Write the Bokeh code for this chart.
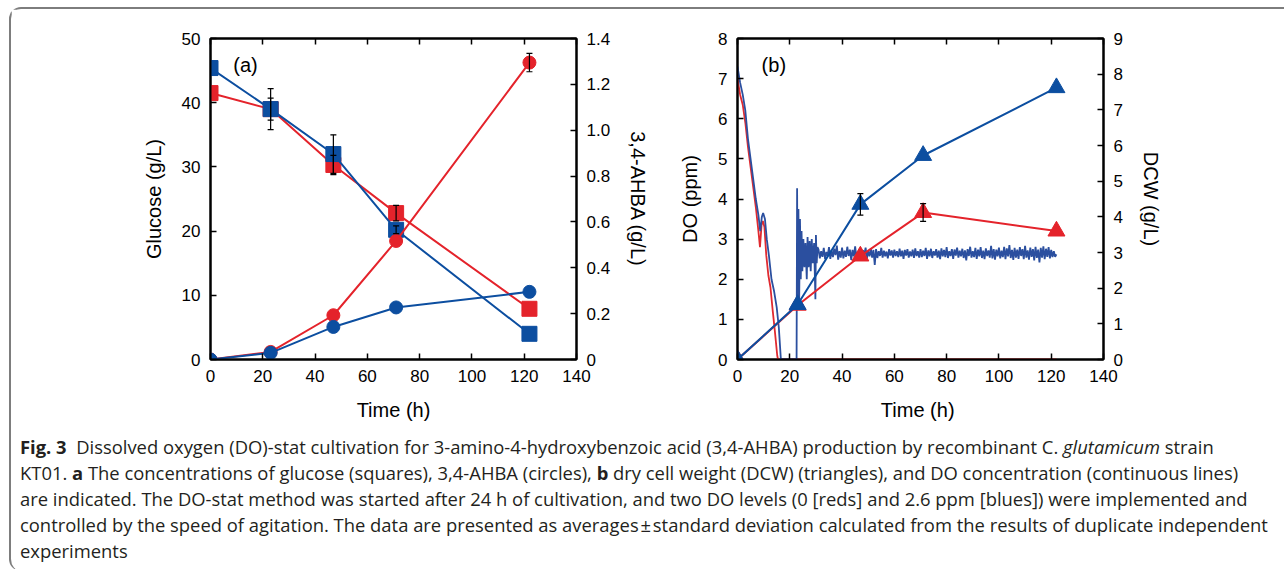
import numpy as np
from bokeh.plotting import figure
from bokeh.models import Range1d, LinearAxis, FixedTicker, Label, Div, CustomJSTickFormatter
from bokeh.layouts import row, column
from bokeh.embed import file_html
from bokeh.resources import INLINE

RED = "#e4232b"
BLUE = "#0c4ea0"
DO_BLUE = "#2b4f9f"
DO_RED = "#e02a30"
FONT = "Liberation Sans"

# ---------------- panel (a) data ----------------
time_a = [0, 23, 47, 71, 122]
glc_red = [41.5, 39.0, 30.3, 22.8, 7.9]
glc_blue = [45.4, 39.0, 32.0, 20.2, 4.0]
glc_red_sd = [0, 1.7, 1.5, 1.2, 0]
glc_blue_sd = [0, 3.2, 3.0, 0.6, 0]
ahba_red = [0, 0.033, 0.193, 0.517, 1.295]
ahba_blue = [0, 0.029, 0.142, 0.227, 0.295]
ahba_red_sd = [0, 0, 0, 0, 0.04]
ahba_blue_sd = [0, 0, 0, 0, 0]

time_ticks = [0, 20, 40, 60, 80, 100, 120, 140]
glc_ticks = [0, 10, 20, 30, 40, 50]
ahba_ticks = [0, 0.2, 0.4, 0.6, 0.8, 1.0, 1.2, 1.4]

# ---------------- panel (b) data ----------------
time_b = [0, 23, 47, 71, 122]
dcw_red = [0, 1.52, 2.9, 4.12, 3.6]
dcw_blue = [0, 1.54, 4.35, 5.72, 7.62]
dcw_red_sd = [0, 0, 0, 0.25, 0]
dcw_blue_sd = [0, 0, 0.3, 0, 0]

do_ticks = [0, 1, 2, 3, 4, 5, 6, 7, 8]
dcw_ticks = [0, 1, 2, 3, 4, 5, 6, 7, 8, 9]

do_red_t = [0, 1, 2, 3, 4, 5, 6, 7, 8, 8.6, 9.2, 9.7, 10.3, 11.0, 11.8, 12.6, 13.5, 14.3, 15.2, 15.5, 122]
do_red = [7.0, 6.6, 6.35, 5.9, 5.3, 4.8, 4.3, 3.8, 3.2, 2.8, 3.35, 3.45, 3.3, 2.6, 2.1, 1.8, 1.2, 0.7, 0.1, 0.0, 0.0]

do_blue_t = [0, 1, 2, 3, 4, 5, 6, 7, 8, 8.7, 9.3, 9.8, 10.5, 11.2, 12, 13, 14, 15, 15.8, 16.6, 22.6,
             22.8, 23.0, 23.3, 23.6, 23.9, 24.2, 24.5, 24.8, 25.2, 25.6, 26.0, 26.5, 26.8, 27.2,
             27.6, 28.0, 28.4, 28.8, 29.3, 29.8, 30.0, 30.3, 30.6]
do_blue = [7.3, 6.9, 6.6, 6.2, 5.5, 5.0, 4.5, 4.0, 3.6, 3.2, 3.55, 3.65, 3.5, 3.0, 2.6, 2.0, 1.7, 1.3, 0.8, 0.0, 0.0,
           4.27, 1.3, 3.75, 1.5, 3.5, 2.0, 3.2, 2.2, 3.0, 2.3, 2.9, 2.0, 3.05, 2.3,
           2.95, 2.2, 3.0, 2.4, 2.9, 1.5, 3.1, 2.4, 2.8]
# DO-stat phase (2.6 ppm set point), one reading every 0.5 h from 31 h to 122 h
do_blue_stat = [
    2.74, 2.52, 2.70, 2.56, 2.78, 2.50, 2.68, 2.58, 2.80, 2.51,
    2.72, 2.55, 2.76, 2.60, 2.84, 2.49, 2.70, 2.54, 2.79, 2.52,
    2.71, 2.56, 2.81, 2.58, 2.74, 2.48, 2.73, 2.57, 2.82, 2.53,
    2.69, 2.51, 2.77, 2.55, 2.72, 2.60, 2.79, 2.52, 2.70, 2.57,
    2.76, 2.54, 2.73, 2.36, 2.75, 2.53, 2.70, 2.58, 2.78, 2.54,
    2.71, 2.57, 2.69, 2.52, 2.75, 2.59, 2.72, 2.54, 2.74, 2.58,
    2.70, 2.55, 2.76, 2.57, 2.71, 2.51, 2.73, 2.59, 2.75, 2.54,
    2.69, 2.57, 2.74, 2.53, 2.77, 2.58, 2.70, 2.54, 2.75, 2.55,
    2.71, 2.58, 2.78, 2.51, 2.72, 2.57, 2.76, 2.53, 2.70, 2.59,
    2.75, 2.54, 2.71, 2.50, 2.77, 2.57, 2.73, 2.55, 2.80, 2.53,
    2.70, 2.58, 2.75, 2.51, 2.74, 2.59, 2.79, 2.54, 2.71, 2.57,
    2.76, 2.53, 2.72, 2.47, 2.75, 2.58, 2.81, 2.54, 2.70, 2.55,
    2.78, 2.51, 2.74, 2.57, 2.80, 2.53, 2.71, 2.50, 2.77, 2.58,
    2.72, 2.54, 2.83, 2.52, 2.75, 2.49, 2.74, 2.57, 2.79, 2.52,
    2.71, 2.55, 2.81, 2.50, 2.77, 2.57, 2.85, 2.53, 2.73, 2.48,
    2.78, 2.54, 2.74, 2.51, 2.80, 2.58, 2.75, 2.50, 2.83, 2.54,
    2.72, 2.49, 2.79, 2.56, 2.75, 2.47, 2.81, 2.53, 2.74, 2.42,
    2.78, 2.54, 2.82, 2.50, 2.76, 2.56, 2.80, 2.52, 2.73, 2.55,
    2.70, 2.56, 2.62,
]
do_blue_stat_t = list(31.0 + 0.5 * np.arange(len(do_blue_stat)))


def style_axis(ax, ticks, show_labels=True):
    ax.ticker = FixedTicker(ticks=ticks)
    ax.major_tick_in = 6
    ax.major_tick_out = 0
    ax.minor_tick_in = 0
    ax.minor_tick_out = 0
    ax.axis_line_width = 2
    ax.axis_line_color = "black"
    ax.major_tick_line_width = 1.5
    ax.major_tick_line_color = "black"
    ax.major_label_text_font = FONT
    ax.major_label_text_font_size = "17px"
    ax.major_label_text_color = "black"
    ax.axis_label_text_font = FONT
    ax.axis_label_text_font_size = "20px"
    ax.axis_label_text_font_style = "normal"
    ax.axis_label_text_color = "black"
    ax.major_label_standoff = 10
    ax.axis_label_standoff = 14
    if not show_labels:
        ax.major_label_text_font_size = "1px"
        ax.major_label_text_color = None
        ax.major_label_standoff = 0


def add_err(p, t, y, sd, range_name="default"):
    xs = [ti for ti, s in zip(t, sd) if s > 0]
    lo = [yi - s for yi, s in zip(y, sd) if s > 0]
    hi = [yi + s for yi, s in zip(y, sd) if s > 0]
    if not xs:
        return
    p.segment(xs, lo, xs, hi, line_color="black", line_width=1.2, y_range_name=range_name)
    p.scatter(xs + xs, lo + hi, marker="dash", size=6, line_color="black", line_width=1.2,
              y_range_name=range_name)


def make_fig(width, yr, bl, br, bt):
    p = figure(width=width, height=420, x_range=Range1d(0, 140), y_range=yr,
               output_backend="svg", toolbar_location=None,
               min_border_left=bl, min_border_right=br, min_border_top=bt, min_border_bottom=70)
    p.xgrid.grid_line_color = None
    p.ygrid.grid_line_color = None
    p.outline_line_color = "black"
    p.outline_line_width = 2
    p.background_fill_color = "white"
    p.border_fill_color = "white"
    return p


# ---------------- panel (a) ----------------
pa = make_fig(648, Range1d(0, 50), 199, 83, 28)
pa.extra_y_ranges = {"ahba": Range1d(0, 1.4)}
style_axis(pa.xaxis[0], time_ticks)
style_axis(pa.yaxis[0], glc_ticks)
pa.xaxis[0].axis_label = "Time (h)"
pa.yaxis[0].axis_label = "Glucose (g/L)"
ra = LinearAxis(y_range_name="ahba", axis_label="3,4-AHBA (g/L)")
style_axis(ra, ahba_ticks)
ra.formatter = CustomJSTickFormatter(code="return tick == 0 ? '0' : tick.toFixed(1);")
pa.add_layout(ra, "right")
ta = LinearAxis()
style_axis(ta, time_ticks, show_labels=False)
pa.add_layout(ta, "above")

pa.line(time_a, glc_red, line_color=RED, line_width=2)
pa.scatter(time_a, glc_red, marker="square", size=15, fill_color=RED, line_color=RED)
pa.line(time_a, glc_blue, line_color=BLUE, line_width=2)
pa.scatter(time_a, glc_blue, marker="square", size=15, fill_color=BLUE, line_color=BLUE)
pa.line(time_a, ahba_red, line_color=RED, line_width=2, y_range_name="ahba")
pa.scatter(time_a, ahba_red, marker="circle", size=13, fill_color=RED, line_color=RED, y_range_name="ahba")
pa.line(time_a, ahba_blue, line_color=BLUE, line_width=2, y_range_name="ahba")
pa.scatter(time_a, ahba_blue, marker="circle", size=13, fill_color=BLUE, line_color=BLUE, y_range_name="ahba")
add_err(pa, time_a, glc_red, glc_red_sd)
add_err(pa, time_a, glc_blue, glc_blue_sd)
add_err(pa, time_a, ahba_red, ahba_red_sd, "ahba")
add_err(pa, time_a, ahba_blue, ahba_blue_sd, "ahba")
pa.add_layout(Label(x=13.4, y=45.8, text="(a)", text_font=FONT, text_font_size="20px",
                    text_align="center", text_baseline="middle", text_color="black"))

# ---------------- panel (b) ----------------
pb = make_fig(615, Range1d(0, 8), 78, 171, 29)
pb.extra_y_ranges = {"dcw": Range1d(0, 9)}
style_axis(pb.xaxis[0], time_ticks)
style_axis(pb.yaxis[0], do_ticks)
pb.xaxis[0].axis_label = "Time  (h)"
pb.yaxis[0].axis_label = "DO (ppm)"
rb = LinearAxis(y_range_name="dcw", axis_label="DCW (g/L)")
style_axis(rb, dcw_ticks)
pb.add_layout(rb, "right")
tb = LinearAxis()
style_axis(tb, time_ticks, show_labels=False)
pb.add_layout(tb, "above")

pb.line(do_red_t, do_red, line_color=DO_RED, line_width=1.8)
pb.line(do_blue_t + do_blue_stat_t, do_blue + do_blue_stat, line_color=DO_BLUE, line_width=1.8)
pb.line(time_b, dcw_red, line_color=RED, line_width=2, y_range_name="dcw")
pb.scatter(time_b, dcw_red, marker="triangle", size=17, fill_color=RED, line_color=RED, y_range_name="dcw")
pb.line(time_b, dcw_blue, line_color=BLUE, line_width=2, y_range_name="dcw")
pb.scatter(time_b, dcw_blue, marker="triangle", size=17, fill_color=BLUE, line_color=BLUE, y_range_name="dcw")
add_err(pb, time_b, dcw_red, dcw_red_sd, "dcw")
add_err(pb, time_b, dcw_blue, dcw_blue_sd, "dcw")
pb.add_layout(Label(x=13.9, y=7.35, text="(b)", text_font=FONT, text_font_size="20px",
                    text_align="center", text_baseline="middle", text_color="black"))

caption_html = (
    "<b>Fig. 3</b>&nbsp; Dissolved oxygen (DO)-stat cultivation for 3-amino-4-hydroxybenzoic acid (3,4-AHBA) "
    "production by recombinant C. <i>glutamicum</i> strain<br>"
    "KT01. <b>a</b> The concentrations of glucose (squares), 3,4-AHBA (circles), <b>b</b> dry cell weight (DCW) "
    "(triangles), and DO concentration (continuous lines)<br>"
    "are indicated. The DO-stat method was started after 24 h of cultivation, and two DO levels (0 [reds] and "
    "2.6 ppm [blues]) were implemented and<br>"
    "controlled by the speed of agitation. The data are presented as averages&#8202;&plusmn;&#8202;standard deviation "
    "calculated from the results of duplicate independent<br>"
    "experiments"
)
caption = Div(text=caption_html, width=1263, height=132,
              styles={"font-family": "'Open Sans'", "font-size": "18.4px", "line-height": "26px",
                      "color": "#231f20", "white-space": "nowrap", "padding-left": "4px",
                      "padding-top": "0px"})

layout = column(row(pa, pb), caption,
                styles={"border-top": "2px solid #7d7d7d", "border-left": "2px solid #7d7d7d",
                        "border-radius": "12px 0 0 12px", "margin-left": "9px", "margin-top": "7px"})

open("out.html", "w").write(file_html(layout, INLINE))
